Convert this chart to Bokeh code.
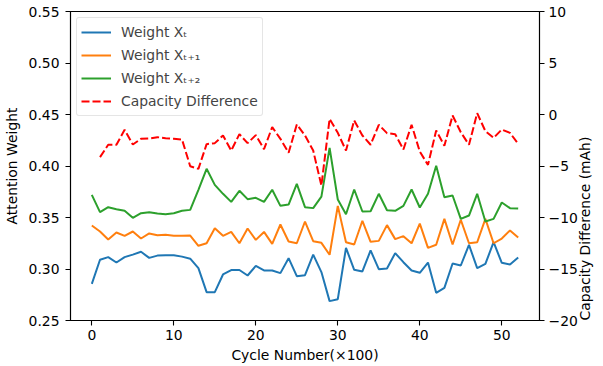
import numpy as np
from bokeh.plotting import figure
from bokeh.models import (Range1d, LinearAxis, FixedTicker, PrintfTickFormatter,
                          CustomJSTickFormatter, Legend, LegendItem)
from bokeh.embed import file_html
from bokeh.resources import INLINE

cycles = list(range(53))
weight_t = [0.2856, 0.309, 0.3115, 0.3063, 0.3115, 0.314, 0.3167, 0.3108, 0.313, 0.3134,
            0.3134, 0.312, 0.310, 0.3008, 0.2775, 0.2775, 0.2947, 0.299, 0.299, 0.2937,
            0.303, 0.2986, 0.2986, 0.296, 0.3105, 0.293, 0.294, 0.314, 0.297, 0.2688,
            0.2707, 0.3205, 0.2992, 0.2976, 0.318, 0.2998, 0.3004, 0.3154, 0.3066, 0.2985,
            0.2963, 0.3063, 0.2769, 0.2817, 0.3053, 0.3034, 0.3235, 0.3008, 0.305, 0.326,
            0.306, 0.3044, 0.3112]
weight_t1 = [0.3422, 0.3364, 0.3286, 0.3354, 0.3322, 0.3364, 0.3296, 0.3345, 0.3328, 0.3332,
             0.3322, 0.3322, 0.3325, 0.3225, 0.325, 0.3396, 0.3322, 0.336, 0.325, 0.3393,
             0.3283, 0.336, 0.3244, 0.3432, 0.3267, 0.325, 0.3461, 0.327, 0.3254, 0.3138,
             0.3613, 0.326, 0.3238, 0.3468, 0.3264, 0.3273, 0.3426, 0.329, 0.3319, 0.325,
             0.344, 0.3205, 0.3235, 0.3487, 0.3238, 0.3478, 0.325, 0.326, 0.3487, 0.325,
             0.3296, 0.3374, 0.3306]
weight_t2 = [0.372, 0.3552, 0.36, 0.3581, 0.3565, 0.3497, 0.3542, 0.3552, 0.3539, 0.3532,
             0.3542, 0.3565, 0.3574, 0.3769, 0.3973, 0.3817, 0.373, 0.3652, 0.3759, 0.3678,
             0.3691, 0.3652, 0.3769, 0.3613, 0.3626, 0.3827, 0.36, 0.3591, 0.3702, 0.4176,
             0.3675, 0.3532, 0.3772, 0.3558, 0.3561, 0.373, 0.3571, 0.3565, 0.3613, 0.3772,
             0.3597, 0.373, 0.4002, 0.3697, 0.3714, 0.3487, 0.3519, 0.373, 0.3461, 0.3487,
             0.3646, 0.3591, 0.3587]
cap_cycles = list(range(1, 53))
cap_diff = [-4.14, -2.94, -2.94, -1.49, -2.91, -2.36, -2.33, -2.2, -2.3, -2.36,
            -2.43, -5.02, -5.28, -2.88, -2.78, -2.04, -3.5, -1.91, -2.78, -2.0,
            -3.37, -1.23, -2.36, -3.72, -0.97, -2.04, -3.5, -6.9, -0.42, -1.78,
            -3.5, -0.58, -2.04, -2.94, -1.0, -1.81, -1.91, -3.4, -1.0, -3.6,
            -4.89, -1.55, -3.04, -0.1, -1.72, -2.94, 0.13, -1.62, -2.27, -1.46,
            -1.78, -2.85]

x_ticks = [0, 10, 20, 30, 40, 50]
left_ticks = [0.25, 0.30, 0.35, 0.40, 0.45, 0.50, 0.55]
right_ticks = [-20, -15, -10, -5, 0, 5, 10]
labels = ["Weight X\u209c", "Weight X\u209c\u208a\u2081", "Weight X\u209c\u208a\u2082",
          "Capacity Difference"]

FONT = "DejaVu Sans"
FS = "13.9px"

p = figure(width=603, height=366, output_backend="svg", toolbar_location=None,
           x_range=Range1d(-2.6, 54.6), y_range=Range1d(0.25, 0.55),
           min_border_left=69, min_border_right=59, min_border_top=11,
           min_border_bottom=46)
p.extra_y_ranges = {"cap": Range1d(-20, 10)}
p.xgrid.visible = False
p.ygrid.visible = False
p.outline_line_color = "black"
p.outline_line_width = 1.1
p.background_fill_color = "white"
p.border_fill_color = "white"

r1 = p.line(cycles, weight_t, line_color="#1f77b4", line_width=2)
r2 = p.line(cycles, weight_t1, line_color="#ff7f0e", line_width=2)
r3 = p.line(cycles, weight_t2, line_color="#2ca02c", line_width=2)
r4 = p.line(cap_cycles, cap_diff, line_color="#ff0000", line_width=2,
            line_dash="8 3", y_range_name="cap")

raxis = LinearAxis(y_range_name="cap")
p.add_layout(raxis, "right")

def style(ax):
    ax.axis_line_color = "black"
    ax.axis_line_width = 1.1
    ax.major_tick_line_width = 1.1
    ax.major_tick_out = 5
    ax.major_tick_in = 0
    ax.minor_tick_line_color = None
    ax.major_label_text_font = FONT
    ax.major_label_text_font_size = FS
    ax.major_label_text_color = "black"
    ax.axis_label_text_font = FONT
    ax.axis_label_text_font_size = FS
    ax.axis_label_text_font_style = "normal"
    ax.axis_label_text_color = "black"

xa = p.xaxis[0]
la = p.yaxis[0]
for ax in (xa, la, raxis):
    style(ax)

xa.ticker = FixedTicker(ticks=x_ticks)
xa.axis_label = "Cycle Number(\u00d7100)"
xa.major_label_standoff = 4
xa.axis_label_standoff = 4

la.ticker = FixedTicker(ticks=left_ticks)
la.formatter = PrintfTickFormatter(format="%.2f")
la.axis_label = "Attention Weight"
la.major_label_standoff = 6
la.axis_label_standoff = 6

raxis.ticker = FixedTicker(ticks=right_ticks)
raxis.formatter = CustomJSTickFormatter(code="return String(tick).replace('-', '\\u2212');")
raxis.axis_label = "Capacity Difference (mAh)"
raxis.axis_label_orientation = np.pi / 2
raxis.axis_label_align = "start"
raxis.major_label_standoff = 4
raxis.axis_label_standoff = 4

legend = Legend(items=[LegendItem(label=labels[0], renderers=[r1]),
                       LegendItem(label=labels[1], renderers=[r2]),
                       LegendItem(label=labels[2], renderers=[r3]),
                       LegendItem(label=labels[3], renderers=[r4])],
                location="top_left")
legend.label_text_font = FONT
legend.label_text_font_size = FS
legend.glyph_width = 30
legend.glyph_height = 20
legend.label_height = 20
legend.spacing = 3
legend.label_standoff = 10
legend.padding = 4
legend.margin = 6
legend.border_radius = 3
legend.border_line_color = "#cccccc"
legend.border_line_width = 1
legend.background_fill_alpha = 0.8
p.add_layout(legend)

open("out.html", "w").write(file_html(p, INLINE))
